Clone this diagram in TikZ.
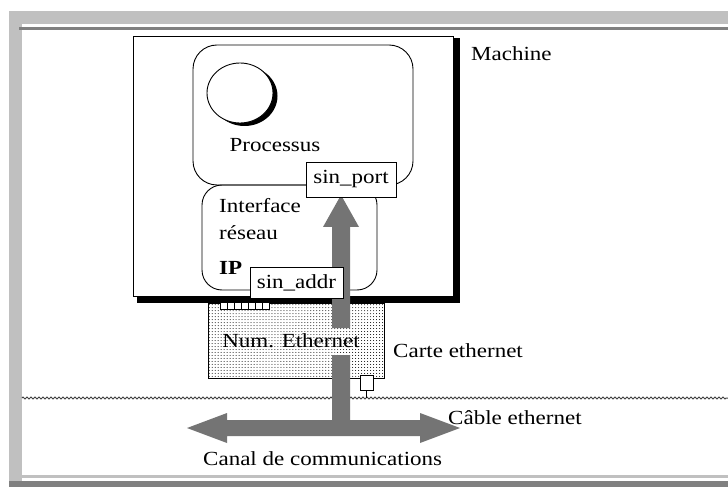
\documentclass[tikz,border=0pt]{standalone}
\usepackage{fontspec}
\setmainfont{Liberation Serif}[FakeStretch=1.15]
\usetikzlibrary{patterns,decorations.pathmorphing}
\definecolor{lgray}{HTML}{C0C0C0}
\definecolor{dgray}{HTML}{808080}
\definecolor{arrowgray}{HTML}{747474}
\tikzset{
  txt/.style={inner sep=0pt, font=\fontsize{20bp}{27bp}\selectfont},
  whitebox/.style={draw, fill=white, line width=0.9bp, inner sep=0pt},
  roundbox/.style={draw, line width=0.9bp, rounded corners=24bp},
  fatarrow/.style={fill=arrowgray},
  cardfill/.style={preaction={fill=white}, pattern=dots},
}
\begin{document}
\begin{tikzpicture}[x=1bp,y=-1bp]
\useasboundingbox (0,0) rectangle (728,487);
\fill[white] (0,0) rectangle (728,487);
% frame
\fill[lgray] (9,11) rectangle (728,24);
\fill[lgray] (9,11) rectangle (22,481);
\fill[dgray] (19,27) rectangle (728,30);
\fill[lgray] (22,475) rectangle (728,478);
\fill[dgray] (9,481) rectangle (728,487);
% cable
\coordinate (cabL) at (22,398);
\coordinate (cabR) at (728,398);
\draw[black!75, line width=1bp, decorate, decoration={zigzag, segment length=4bp, amplitude=1bp}] (cabL) -- (cabR);
% machine
\fill[black] (137,38) rectangle (460,303);
\node[whitebox, minimum width=320bp, minimum height=260bp] (machine) at (293,166) {};
% process box
\draw[roundbox] (193,45) rectangle (413,185);
\coordinate (pc) at (240,93);
\fill[black] (244.5,96) ellipse [x radius=33bp, y radius=30bp];
\draw[fill=white, line width=0.9bp] (pc) ellipse [x radius=33bp, y radius=30bp];
\node[txt] (proc) at (275,145) {Processus};
% interface
\draw[roundbox, rounded corners=20bp] (202,185) rectangle (377,290);
\node[txt, anchor=north west, align=left] (iface) at (219,198) {Interface\\réseau};
\node[txt, anchor=west, font=\fontsize{20bp}{24bp}\selectfont\bfseries] (ip) at (219,268) {IP};
% ethernet card
\draw[cardfill, line width=0.9bp] (208,303) rectangle (384,378);
\draw[fill=white, line width=0.9bp] (220,302) rectangle (269,309);
\foreach \x in {227,234,241,248,255,262} \draw[line width=0.9bp] (\x,302) -- (\x,309);
% connector
\node[whitebox, minimum width=13bp, minimum height=15bp] (plug) at (366.5,382.5) {};
\coordinate (plugc) at (366.5,398);
\draw[line width=0.9bp] (plug.south) -- (plugc);
% fat arrows (shaft interrupted behind the card label)
\fill[fatarrow] (341,195) -- (359,227) -- (350,227) -- (350,328) -- (332,328) -- (332,227) -- (323,227) -- cycle;
\fill[fatarrow] (350,355) -- (350,420) -- (420,420) -- (420,413)
  -- (460,428) -- (420,443) -- (420,436) -- (227,436) -- (227,443) -- (187,428)
  -- (227,413) -- (227,420) -- (332,420) -- (332,355) -- cycle;
% card label
\node[txt] (num) at (291,341) {Num. Ethernet};
% port / addr boxes
\node[whitebox, txt, draw, line width=0.9bp, minimum width=90bp, minimum height=35bp] (port) at (351,179.5) {sin\_port};
\node[whitebox, txt, draw, line width=0.9bp, minimum width=93bp, minimum height=31bp] (addr) at (296.5,282.5) {sin\_addr};
% labels
\node[txt, anchor=west] (mach) at (471,54) {Machine};
\node[txt, anchor=west] (carte) at (393,351) {Carte ethernet};
\node[txt, anchor=west] (cable) at (448,418) {Câble ethernet};
\node[txt, anchor=west] (canal) at (203,459) {Canal de communications};
\end{tikzpicture}
\end{document}
